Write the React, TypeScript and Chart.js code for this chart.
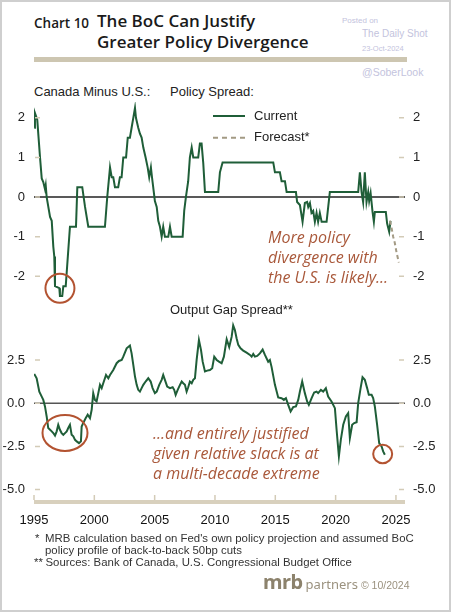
import React, { useEffect, useRef } from "react";
import { Chart, registerables } from "chart.js";
Chart.register(...registerables);

// ---------- DATA ----------
const policyYears = [
  1995.02, 1995.08, 1995.27, 1995.5, 1995.64, 1995.77, 1995.91, 1995.97, 1996.05, 1996.33,
  1996.47, 1996.6, 1996.68, 1996.74, 1997.1, 1997.15, 1997.34, 1997.43, 1997.63, 1997.98,
  1998.48, 1998.59, 1999.0, 1999.23, 1999.5, 2000.88, 2001.07, 2001.3, 2001.44, 2001.57,
  2001.71, 2001.98, 2002.12, 2002.26, 2002.4, 2002.63, 2002.77, 2002.95, 2003.09, 2003.23,
  2003.37, 2003.45, 2003.64, 2003.78, 2003.92, 2004.06, 2004.25, 2004.42, 2004.55, 2004.69,
  2004.78, 2004.88, 2005.02, 2005.17, 2005.3, 2005.44, 2005.58, 2005.71, 2005.85, 2006.13,
  2006.27, 2006.41, 2007.32, 2007.45, 2007.59, 2007.78, 2007.92, 2008.07, 2008.2, 2008.61,
  2008.75, 2008.89, 2009.03, 2009.17, 2010.27, 2010.41, 2010.63, 2014.83, 2014.97, 2015.38,
  2015.52, 2015.8, 2015.94, 2016.71, 2016.81, 2017.04, 2017.26, 2017.45, 2017.64, 2017.73,
  2017.87, 2018.0, 2018.14, 2018.28, 2018.42, 2018.55, 2018.69, 2018.84, 2019.25, 2019.52,
  2021.87, 2022.01, 2022.15, 2022.28, 2022.42, 2022.56, 2022.7, 2022.78, 2022.9, 2023.06,
  2023.17, 2023.25, 2024.16, 2024.27, 2024.44, 2024.55,
];
const policyValues = [
  1.75, 2.12, 1.95, 1.0, 0.47, 0.38, 0.2, 0.3, 0.0, -0.5,
  -0.6, -1.25, -1.5, -2.25, -2.3, -2.5, -2.5, -2.25, -2.25, -0.75,
  -0.75, 0.25, 0.25, -0.25, -0.75, -0.75, 0.0, 0.75, 0.5, 0.5,
  0.25, 0.25, 0.5, 0.5, 1.0, 1.0, 1.5, 1.5, 1.75, 2.0,
  2.25, 2.0, 1.75, 1.6, 1.5, 1.25, 1.0, 0.75, 0.5, 0.75,
  0.5, 0.25, -0.1, -0.25, -0.6, -0.75, -1.0, -0.75, -1.0, -1.0,
  -0.75, -1.0, -1.0, -0.35, 0.0, 0.4, 1.0, 1.25, 1.0, 1.0,
  1.35, 1.35, 0.85, 0.125, 0.125, 0.625, 0.875, 0.875, 0.625, 0.625,
  0.4, 0.4, 0.125, 0.125, -0.125, -0.2, -0.625, -0.15, -0.125, -0.25,
  -0.15, -0.4, -0.35, -0.625, -0.4, -0.625, -0.4, -0.625, -0.625, 0.125,
  0.125, 0.625, 0.125, -0.125, 0.625, -0.125, 0.125, -0.1, 0.1, -0.375,
  -0.625, -0.375, -0.375, -0.67, -0.875, -0.6,
];
const forecastYears = [2024.5, 2024.62, 2024.77, 2024.9, 2025.05, 2025.24];
const forecastValues = [-0.6, -0.75, -1.0, -1.15, -1.4, -1.65];

const gapYears = [
  1995.02, 1995.22, 1995.44, 1995.64, 1995.77, 1995.91, 1996.05, 1996.18, 1996.33, 1996.47,
  1996.6, 1996.74, 1996.88, 1997.01, 1997.15, 1997.29, 1997.43, 1997.57, 1997.71, 1997.84,
  1997.98, 1998.12, 1998.26, 1998.4, 1998.54, 1998.73, 1998.89, 1998.95, 1999.08, 1999.28,
  1999.45, 1999.64, 1999.78, 1999.91, 2000.05, 2000.19, 2000.33, 2000.47, 2000.61, 2000.74,
  2000.97, 2001.16, 2001.3, 2001.57, 2001.85, 2002.04, 2002.27, 2002.4, 2002.68, 2002.95,
  2003.09, 2003.23, 2003.37, 2003.51, 2003.64, 2003.78, 2003.92, 2004.06, 2004.25, 2004.47,
  2004.67, 2004.83, 2005.02, 2005.17, 2005.38, 2005.58, 2005.71, 2005.85, 2006.04, 2006.27,
  2006.49, 2006.62, 2006.74, 2006.91, 2007.1, 2007.24, 2007.37, 2007.51, 2007.65, 2007.78,
  2007.92, 2008.07, 2008.2, 2008.34, 2008.48, 2008.67, 2008.84, 2008.98, 2009.17, 2009.36,
  2009.58, 2009.77, 2009.94, 2010.14, 2010.33, 2010.55, 2010.74, 2010.97, 2011.18, 2011.38,
  2011.51, 2011.65, 2011.79, 2011.93, 2012.12, 2012.34, 2012.62, 2012.9, 2013.04, 2013.17,
  2013.31, 2013.5, 2013.72, 2013.95, 2014.14, 2014.41, 2014.55, 2014.69, 2014.97, 2015.24,
  2015.52, 2015.71, 2015.88, 2016.07, 2016.27, 2016.48, 2016.71, 2016.9, 2017.04, 2017.23,
  2017.45, 2017.64, 2017.78, 2018.01, 2018.22, 2018.42, 2018.55, 2018.78, 2018.97, 2019.19,
  2019.38, 2019.66, 2019.94, 2020.08, 2020.27, 2020.43, 2020.63, 2020.85, 2021.04, 2021.18,
  2021.37, 2021.54, 2021.74, 2021.87, 2022.07, 2022.23, 2022.42, 2022.61, 2022.75, 2022.98,
  2023.11, 2023.25, 2023.44, 2023.61, 2023.81, 2023.94, 2024.08,
];
const gapValues = [
  1.69, 1.44, 0.67, 0.38, 0.19, -0.19, -0.77, -1.44, -1.54, -1.63,
  -1.73, -1.88, -1.63, -1.25, -1.54, -1.73, -1.83, -1.73, -1.63, -1.44,
  -1.25, -1.83, -1.92, -2.12, -2.21, -2.31, -2.21, -1.35, -1.15, -0.87,
  -0.67, -0.87, -0.38, 0.58, 0.19, 0.1, 0.58, 1.06, 0.87, 1.15,
  1.63, 1.44, 1.63, 1.92, 2.31, 2.44, 2.5, 2.69, 3.17, 3.33,
  2.88, 2.21, 1.54, 1.06, 0.77, 0.67, 0.87, 1.06, 1.25, 1.44,
  1.25, 0.87, 0.58, 0.67, 1.06, 1.35, 1.63, 1.35, 0.96, 0.87,
  0.92, 0.77, 0.48, 0.77, 1.06, 1.25, 1.15, 1.06, 0.67, 0.92,
  1.25, 1.15, 1.35, 1.44, 2.5, 3.65, 3.08, 2.4, 1.83, 1.88,
  1.92, 2.02, 2.69, 2.5, 2.4, 2.31, 2.69, 3.7, 3.25, 3.83,
  4.5, 4.23, 3.75, 3.37, 3.17, 3.04, 2.92, 2.79, 2.69, 2.85,
  2.69, 2.73, 2.88, 3.1, 2.79, 2.4, 2.5, 2.1, 1.06, 0.33,
  0.29, 0.19, 0.29, -0.1, -0.48, -0.23, -0.19, 0.19, 0.67, 1.25,
  0.58, 0.1, -0.1, 0.29, 0.62, 0.67, 0.58, 0.77, 0.67, 0.87,
  0.38, 0.1, -0.29, -1.54, -3.08, -2.12, -1.25, -0.77, -0.58, -2.02,
  -1.25, -1.15, -1.1, 0.0, 0.87, 1.5, 1.35, 0.87, 0.48, 0.48,
  0.29, -0.19, -1.25, -2.31, -2.5, -2.79, -2.98,
];

const yearTicks = [1995, 2000, 2005, 2010, 2015, 2020, 2025];
const policyTicks = [-2, -1, 0, 1, 2];
const gapTicks = [-5, -2.5, 0, 2.5];

// ---------- STYLE ----------
const SANS = "'Liberation Sans', Arial, sans-serif";
const GREEN = "#1f5e38";
const FORECAST = "#a39a84";
const TICK = "#d3cbb7";
const RED = "#b35331";
const ANNOT = "#a9583a";

const toXY = (xs: number[], ys: number[]) => xs.map((x, i) => ({ x, y: ys[i] }));

function inwardYTicks(chart: any, values: number[]) {
  const { ctx, chartArea } = chart;
  const y = chart.scales.y;
  ctx.save();
  ctx.strokeStyle = TICK;
  ctx.lineWidth = 1.5;
  values.forEach((v) => {
    const py = y.getPixelForValue(v);
    ctx.beginPath();
    ctx.moveTo(chartArea.left + 1, py);
    ctx.lineTo(chartArea.left + 6, py);
    ctx.moveTo(chartArea.right - 6, py);
    ctx.lineTo(chartArea.right - 1, py);
    ctx.stroke();
  });
  ctx.restore();
}

function zeroLine(chart: any, color: string) {
  const { ctx, chartArea } = chart;
  const py = chart.scales.y.getPixelForValue(0);
  ctx.save();
  ctx.strokeStyle = color;
  ctx.lineWidth = 1.5;
  ctx.beginPath();
  ctx.moveTo(chartArea.left, py);
  ctx.lineTo(chartArea.right, py);
  ctx.stroke();
  ctx.restore();
}

function ellipseAt(chart: any, xv: number, yv: number, rx: number, ry: number) {
  const { ctx } = chart;
  const px = chart.scales.x.getPixelForValue(xv);
  const py = chart.scales.y.getPixelForValue(yv);
  ctx.save();
  ctx.strokeStyle = RED;
  ctx.lineWidth = 2;
  ctx.beginPath();
  ctx.ellipse(px, py, rx, ry, 0, 0, Math.PI * 2);
  ctx.stroke();
  ctx.restore();
}

const fixedTicks = (vals: number[]) => (scale: any) => {
  scale.ticks = vals.map((v) => ({ value: v }));
};

const fitY = (w: number) => (s: any) => {
  s.width = w;
  s.paddingTop = 0;
  s.paddingBottom = 0;
};
const fitX = (h: number) => (s: any) => {
  s.height = h;
  s.paddingLeft = 0;
  s.paddingRight = 0;
};

function TopChart() {
  const ref = useRef<HTMLCanvasElement>(null);
  useEffect(() => {
    const plugin = {
      id: "topDeco",
      beforeDatasetsDraw(chart: any) {
        zeroLine(chart, "#222");
      },
      afterDraw(chart: any) {
        inwardYTicks(chart, policyTicks);
        ellipseAt(chart, 1997.15, -2.3, 14.5, 14.5);
        const ctx = chart.ctx;
        ctx.save();
        // legend
        ctx.lineWidth = 2;
        ctx.strokeStyle = GREEN;
        ctx.beginPath();
        ctx.moveTo(213, 17);
        ctx.lineTo(245, 17);
        ctx.stroke();
        ctx.strokeStyle = FORECAST;
        ctx.setLineDash([5, 4]);
        ctx.beginPath();
        ctx.moveTo(213, 38.7);
        ctx.lineTo(245, 38.7);
        ctx.stroke();
        ctx.setLineDash([]);
        ctx.fillStyle = "#222";
        ctx.font = `13px ${SANS}`;
        ctx.textBaseline = "middle";
        ctx.fillText("Current", 254, 17);
        ctx.fillText("Forecast*", 254, 38.7);
        ctx.restore();
      },
    };
    const chart = new Chart(ref.current!, {
      type: "line",
      data: {
        datasets: [
          {
            data: toXY(forecastYears, forecastValues),
            borderColor: FORECAST,
            borderWidth: 2,
            borderDash: [4, 3],
            pointRadius: 0,
            tension: 0,
          },
          {
            data: toXY(policyYears, policyValues),
            borderColor: GREEN,
            borderWidth: 2,
            pointRadius: 0,
            tension: 0,
          },
        ],
      },
      options: {
        animation: false,
        responsive: false,
        events: [],
        layout: { padding: { top: 3, bottom: 2, left: 0, right: 0 } },
        plugins: { legend: { display: false }, tooltip: { enabled: false } },
        scales: {
          x: { type: "linear", min: 1995, max: 2025.75, display: false },
          y: {
            position: "left",
            min: -2.75,
            max: 2.4,
            afterBuildTicks: fixedTicks(policyTicks),
            afterFit: fitY(34),
            grid: { display: false, drawTicks: false },
            border: { display: false },
            ticks: { padding: 9, color: "#222", font: { family: SANS, size: 13 }, callback: (v: any) => String(v) },
          },
          y2: {
            position: "right",
            min: -2.75,
            max: 2.4,
            afterBuildTicks: fixedTicks(policyTicks),
            afterFit: fitY(46),
            grid: { display: false, drawTicks: false },
            border: { display: false },
            ticks: { padding: 8, color: "#222", font: { family: SANS, size: 13 }, callback: (v: any) => String(v) },
          },
        },
      },
      plugins: [plugin],
    } as any);
    return () => chart.destroy();
  }, []);
  return <canvas ref={ref} width={451} height={209} style={{ position: "absolute", left: 0, top: 99, width: 451, height: 209 }} />;
}

function BottomChart() {
  const ref = useRef<HTMLCanvasElement>(null);
  useEffect(() => {
    const plugin = {
      id: "botDeco",
      beforeDatasetsDraw(chart: any) {
        zeroLine(chart, "#555");
      },
      afterDraw(chart: any) {
        inwardYTicks(chart, gapTicks);
        const { ctx, chartArea } = chart;
        ctx.save();
        ctx.fillStyle = "#d8d0bd";
        ctx.fillRect(chartArea.left, chartArea.bottom, chartArea.right - chartArea.left, 4);
        ctx.strokeStyle = TICK;
        ctx.lineWidth = 1.5;
        yearTicks.forEach((yr) => {
          const px = chart.scales.x.getPixelForValue(yr);
          ctx.beginPath();
          ctx.moveTo(px, chartArea.bottom - 5);
          ctx.lineTo(px, chartArea.bottom);
          ctx.stroke();
        });
        ctx.restore();
        ellipseAt(chart, 1997.57, -1.72, 22.5, 18);
        ellipseAt(chart, 2023.9, -2.94, 9.5, 9.3);
      },
    };
    const chart = new Chart(ref.current!, {
      type: "line",
      data: {
        datasets: [
          {
            data: toXY(gapYears, gapValues),
            borderColor: GREEN,
            borderWidth: 2,
            pointRadius: 0,
            tension: 0,
          },
        ],
      },
      options: {
        animation: false,
        responsive: false,
        events: [],
        layout: { padding: { top: 6.7, bottom: 0, left: 0, right: 0 } },
        plugins: { legend: { display: false }, tooltip: { enabled: false } },
        scales: {
          x: {
            type: "linear",
            min: 1995,
            max: 2025.75,
            afterBuildTicks: fixedTicks(yearTicks),
            afterFit: fitX(28),
            grid: { display: false, drawTicks: false },
            border: { display: false },
            ticks: { padding: 13, color: "#111", maxRotation: 0, autoSkip: false, font: { family: SANS, size: 13 }, callback: (v: any) => String(v) },
          },
          y: {
            position: "left",
            min: -5.6,
            max: 5.0,
            afterBuildTicks: fixedTicks(gapTicks),
            afterFit: fitY(34),
            grid: { display: false, drawTicks: false },
            border: { display: false },
            ticks: { padding: 9, color: "#222", font: { family: SANS, size: 13 }, callback: (v: any) => Number(v).toFixed(1) },
          },
          y2: {
            position: "right",
            min: -5.6,
            max: 5.0,
            afterBuildTicks: fixedTicks(gapTicks),
            afterFit: fitY(46),
            grid: { display: false, drawTicks: false },
            border: { display: false },
            ticks: { padding: 8, color: "#222", font: { family: SANS, size: 13 }, callback: (v: any) => Number(v).toFixed(1) },
          },
        },
      },
      plugins: [plugin],
    } as any);
    return () => chart.destroy();
  }, []);
  return <canvas ref={ref} width={451} height={218} style={{ position: "absolute", left: 0, top: 310, width: 451, height: 218 }} />;
}

const abs = (left: number, centerY: number, size: number, extra: React.CSSProperties = {}): React.CSSProperties => ({
  position: "absolute",
  left,
  top: centerY - size * 0.6,
  fontSize: size,
  lineHeight: `${size * 1.2}px`,
  whiteSpace: "nowrap",
  fontFamily: SANS,
  color: "#222",
  ...extra,
});

export default function App() {
  const titleFont = "'Open Sans', 'Noto Sans', sans-serif";
  const annotFont = "'Open Sans', 'Noto Sans', sans-serif";
  return (
    <div style={{ position: "absolute", left: 0, top: 0, width: 451, height: 612, background: "#fff", overflow: "hidden" }}>
      <div style={{ position: "absolute", left: 0, top: 0, width: 451, height: 612, boxSizing: "border-box", border: "2px solid #cfcfcf", pointerEvents: "none", zIndex: 5 }} />
      {/* Title */}
      <div style={abs(34, 23, 13.5, { fontFamily: titleFont, fontWeight: 600, color: "#1a1a1a" })}>Chart 10</div>
      <div style={{ position: "absolute", left: 97, top: 10, fontFamily: titleFont, fontWeight: 600, fontSize: 17, lineHeight: "21px", color: "#1a1a1a", whiteSpace: "nowrap" }}>
        The BoC Can Justify<br />Greater Policy Divergence
      </div>
      <div style={{ position: "absolute", left: 34, top: 57, width: 373, height: 4.5, background: "#cdc6b1" }} />
      {/* watermark */}
      <div style={abs(342, 21, 8, { color: "#c3c3dd" })}>Posted on</div>
      <div style={abs(362, 34, 10, { color: "#c3c3dd" })}>The Daily Shot</div>
      <div style={abs(362, 48.5, 7.5, { color: "#c3c3dd" })}>23-Oct-2024</div>
      <div style={abs(362, 72, 10.5, { color: "#c3c3dd" })}>@SoberLook</div>
      {/* headers */}
      <div style={abs(34, 92, 13)}>Canada Minus U.S.:</div>
      <div style={abs(170, 92, 13)}>Policy Spread:</div>
      <TopChart />
      <div style={abs(170, 310, 13)}>Output Gap Spread**</div>
      <BottomChart />
      {/* annotations */}
      <div style={{ position: "absolute", left: 268, top: 226.5, fontFamily: annotFont, fontStyle: "italic", fontSize: 16, lineHeight: "20px", color: ANNOT, whiteSpace: "nowrap" }}>
        More policy<br />divergence with<br />the U.S. is likely...
      </div>
      <div style={{ position: "absolute", left: 153, top: 423, fontFamily: annotFont, fontStyle: "italic", fontSize: 16, lineHeight: "20px", color: ANNOT, whiteSpace: "nowrap" }}>
        ...and entirely justified<br />given relative slack is at<br />a multi-decade extreme
      </div>
      {/* footnotes */}
      <div style={abs(35, 538.5, 11.4, { color: "#333" })}>*</div>
      <div style={abs(45, 538.5, 11.4, { color: "#333" })}>MRB calculation based on Fed's own policy projection and assumed BoC</div>
      <div style={abs(45, 550.5, 11.4, { color: "#333" })}>policy profile of back-to-back 50bp cuts</div>
      <div style={abs(34, 562.5, 11.4, { color: "#333" })}>**</div>
      <div style={abs(45.5, 562.5, 11.4, { color: "#333" })}>Sources: Bank of Canada, U.S. Congressional Budget Office</div>
      <div style={{ position: "absolute", left: 263, top: 568, whiteSpace: "nowrap", color: "#8c826c", fontFamily: "'Noto Sans', sans-serif" }}>
        <span style={{ fontSize: 20, fontWeight: 700, letterSpacing: -0.5 }}>mrb</span>
        <span style={{ fontSize: 13, marginLeft: 3, color: "#9b927f" }}>partners</span>
        <span style={{ fontSize: 10.5, marginLeft: 3, color: "#9b927f", fontFamily: SANS }}>© 10/2024</span>
      </div>
    </div>
  );
}
